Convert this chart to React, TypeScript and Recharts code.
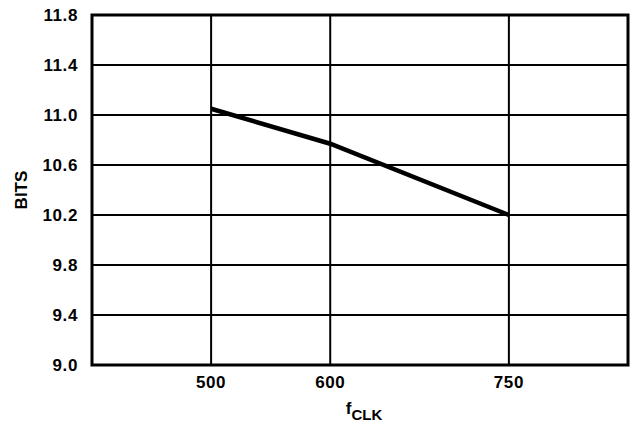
import { LineChart, Line, XAxis, YAxis, CartesianGrid, ReferenceArea, Label } from 'recharts';

const fclk = [500, 600, 750];
const bits = [11.05, 10.77, 10.2];
const xTicks = [500, 600, 750];
const yTicks = [9.0, 9.4, 9.8, 10.2, 10.6, 11.0, 11.4, 11.8];

const data = fclk.map((f, i) => ({ fclk: f, bits: bits[i] }));

const FONT = '"Liberation Sans", Arial, sans-serif';
const tickStyle = { fill: '#000', fontSize: 17, fontWeight: 700, fontFamily: FONT, letterSpacing: 0.6 };

function XLabel({ viewBox }: any) {
  const cx = viewBox.x + viewBox.width / 2 + 4;
  return (
    <text x={cx} y={414} textAnchor="middle" fontFamily={FONT} fontWeight={700} fill="#000">
      <tspan fontSize={17}>f</tspan>
      <tspan fontSize={15} dy={6}>CLK</tspan>
    </text>
  );
}

function YLabel({ viewBox }: any) {
  const cy = viewBox.y + viewBox.height / 2;
  return (
    <text
      x={21}
      y={cy}
      transform={`rotate(-90, 21, ${cy})`}
      textAnchor="middle"
      dominantBaseline="central"
      fontFamily={FONT}
      fontWeight={700}
      fontSize={17}
      fill="#000"
    >
      BITS
    </text>
  );
}

export default function App() {
  return (
    <div style={{ position: 'absolute', left: 0, top: 0, background: '#fff' }}>
      <LineChart width={637} height={429} data={data} margin={{ top: 15, right: 9, left: 0, bottom: 0 }}>
        <CartesianGrid stroke="#000" strokeWidth={2} />
        <XAxis
          dataKey="fclk"
          type="number"
          domain={[400, 850]}
          ticks={xTicks}
          height={64}
          axisLine={false}
          tickLine={false}
          tickSize={0}
          tickMargin={11}
          tick={tickStyle}
        >
          <Label content={<XLabel />} />
        </XAxis>
        <YAxis
          type="number"
          domain={[9, 11.8]}
          ticks={yTicks}
          width={92}
          axisLine={false}
          tickLine={false}
          tickSize={0}
          tickMargin={14}
          tick={tickStyle}
          tickFormatter={(v: number) => v.toFixed(1)}
        >
          <Label content={<YLabel />} />
        </YAxis>
        <ReferenceArea x1={400} x2={850} y1={9} y2={11.8} fill="none" stroke="#000" strokeWidth={3} />
        <Line
          type="linear"
          dataKey="bits"
          stroke="#000"
          strokeWidth={4.5}
          dot={false}
          isAnimationActive={false}
        />
      </LineChart>
    </div>
  );
}
